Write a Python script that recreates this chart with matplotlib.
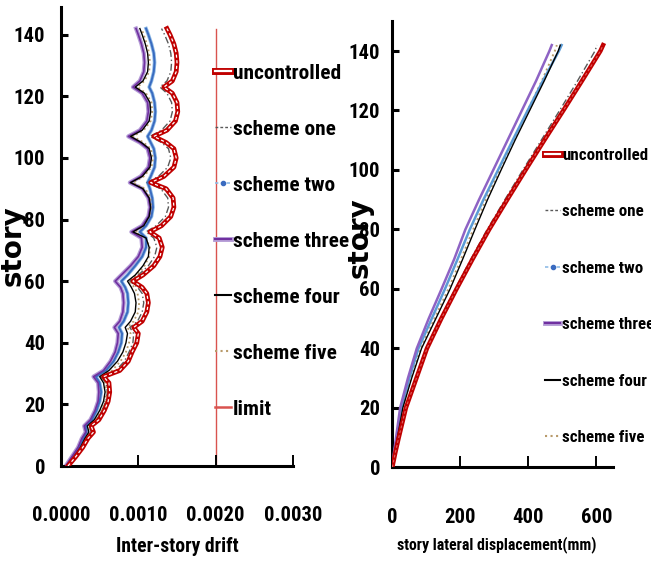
import matplotlib
matplotlib.use('Agg')
import matplotlib.pyplot as plt
from matplotlib.lines import Line2D
from matplotlib import font_manager
from matplotlib.font_manager import FontProperties
from matplotlib.textpath import TextPath

# ---------------- data ----------------
drift_story = [0, 3, 6, 9, 11, 13, 15, 18, 21, 24, 27, 29, 31, 34, 37, 40, 43, 45, 47, 50,
               53, 56, 58, 60, 62, 65, 68, 71, 74, 76, 78, 81, 84, 87, 90, 92, 94, 97, 100,
               103, 105, 107, 109, 112, 115, 118, 121, 123, 125, 128, 131, 134, 137, 140, 142]
# inter-story drift (x 1e-3)
drift_uncontrolled = [0.09, 0.19, 0.28, 0.35, 0.42, 0.39, 0.49, 0.56, 0.61, 0.63, 0.62, 0.55, 0.76, 0.87,
                      0.92, 0.98, 1.00, 0.94, 1.05, 1.11, 1.13, 1.11, 1.05, 0.93, 1.06, 1.20, 1.28, 1.31,
                      1.27, 1.15, 1.30, 1.42, 1.46, 1.45, 1.36, 1.16, 1.33, 1.46, 1.49, 1.46, 1.36, 1.20,
                      1.37, 1.48, 1.51, 1.50, 1.44, 1.33, 1.44, 1.49, 1.50, 1.49, 1.46, 1.41, 1.37]
drift_one = [0.08, 0.18, 0.26, 0.33, 0.39, 0.37, 0.46, 0.53, 0.58, 0.60, 0.58, 0.52, 0.71, 0.82,
             0.88, 0.93, 0.94, 0.89, 0.99, 1.05, 1.07, 1.05, 0.99, 0.89, 1.00, 1.13, 1.21, 1.24,
             1.20, 1.10, 1.23, 1.35, 1.39, 1.38, 1.29, 1.11, 1.26, 1.38, 1.42, 1.39, 1.30, 1.15,
             1.30, 1.41, 1.44, 1.43, 1.37, 1.28, 1.37, 1.42, 1.43, 1.42, 1.39, 1.34, 1.30]
drift_two = [0.07, 0.15, 0.23, 0.29, 0.33, 0.32, 0.40, 0.46, 0.50, 0.52, 0.50, 0.45, 0.58, 0.68,
             0.74, 0.78, 0.79, 0.75, 0.81, 0.86, 0.87, 0.86, 0.83, 0.78, 0.86, 0.96, 1.05, 1.10,
             1.10, 1.02, 1.10, 1.17, 1.19, 1.18, 1.15, 1.12, 1.16, 1.21, 1.22, 1.20, 1.16, 1.12,
             1.17, 1.21, 1.22, 1.21, 1.18, 1.14, 1.17, 1.20, 1.21, 1.20, 1.17, 1.13, 1.10]
drift_three = [0.06, 0.14, 0.22, 0.27, 0.32, 0.30, 0.38, 0.44, 0.48, 0.49, 0.48, 0.42, 0.55, 0.64,
               0.70, 0.73, 0.74, 0.69, 0.76, 0.80, 0.81, 0.80, 0.77, 0.70, 0.78, 0.90, 1.00, 1.05,
               1.04, 0.91, 1.05, 1.13, 1.15, 1.13, 1.05, 0.89, 1.03, 1.13, 1.15, 1.12, 1.02, 0.87,
               1.02, 1.11, 1.13, 1.12, 1.05, 0.93, 1.02, 1.07, 1.08, 1.07, 1.04, 1.00, 0.97]
drift_four = [0.08, 0.17, 0.25, 0.31, 0.36, 0.34, 0.43, 0.50, 0.55, 0.57, 0.55, 0.50, 0.62, 0.73,
              0.80, 0.84, 0.86, 0.83, 0.90, 0.96, 0.97, 0.95, 0.91, 0.86, 0.96, 1.06, 1.13, 1.14,
              1.10, 0.93, 1.07, 1.14, 1.16, 1.14, 1.06, 0.90, 1.05, 1.15, 1.17, 1.14, 1.04, 0.90,
              1.05, 1.14, 1.16, 1.15, 1.08, 0.96, 1.06, 1.12, 1.13, 1.12, 1.09, 1.05, 1.02]
drift_five = [0.08, 0.18, 0.26, 0.33, 0.38, 0.36, 0.45, 0.52, 0.57, 0.59, 0.57, 0.52, 0.66, 0.77,
              0.84, 0.88, 0.90, 0.86, 0.94, 1.00, 1.01, 0.99, 0.95, 0.88, 0.98, 1.08, 1.14, 1.15,
              1.09, 0.96, 1.09, 1.16, 1.18, 1.16, 1.09, 0.93, 1.07, 1.17, 1.19, 1.16, 1.07, 0.93,
              1.07, 1.16, 1.18, 1.17, 1.10, 0.99, 1.08, 1.14, 1.15, 1.14, 1.11, 1.07, 1.04]
limit_drift = [2.0, 2.0]
limit_story = [0, 142]

disp_story = [0, 5, 10, 20, 30, 40, 50, 60, 70, 80, 90, 100, 110, 120, 130, 140, 142]
disp_uncontrolled = [0, 9, 19, 40, 71, 102, 144, 189, 236, 285, 338, 392, 447, 503, 558, 612, 620]
disp_one = [0, 9, 18, 38, 69, 99, 141, 185, 231, 279, 331, 384, 438, 492, 545, 596, 602]
disp_two = [0, 6, 13, 27, 50, 77, 116, 155, 192, 228, 268, 311, 354, 398, 443, 490, 498]
disp_three = [0, 5, 11, 23, 46, 72, 107, 145, 182, 215, 255, 297, 339, 381, 423, 462, 469]
disp_four = [0, 7, 15, 31, 57, 86, 128, 170, 207, 243, 280, 320, 361, 404, 447, 488, 494]
disp_five = [0, 7, 14, 30, 55, 83, 124, 165, 202, 238, 275, 315, 356, 398, 440, 478, 484]

series_names = ['uncontrolled', 'scheme one', 'scheme two', 'scheme three', 'scheme four', 'scheme five']
limit_name = 'limit'

drift_ticks = [0.0, 0.001, 0.002, 0.003]
drift_ticklabels = ['0.0000', '0.0010', '0.0020', '0.0030']
story_ticks = [0, 20, 40, 60, 80, 100, 120, 140]
disp_ticks = [0, 200, 400, 600]

# ---------------- fonts: look for a narrow bold face ----------------
PREF = ['liberation sans narrow', 'roboto condensed', 'open sans condensed',
        'noto sans', 'dejavu sans']

def find_narrow():
    best = None
    for f in font_manager.fontManager.ttflist:
        nm = (f.name + ' ' + str(f.fname)).lower()
        st = str(f.stretch).lower()
        narrow = ('narrow' in nm or 'condensed' in nm or 'condensed' in st
                  or (isinstance(f.stretch, int) and f.stretch < 500))
        if not narrow or 'semicondensed' in nm.replace('-', '').replace(' ', ''):
            continue
        if 'italic' in str(f.style).lower() or 'oblique' in str(f.style).lower() \
                or 'italic' in nm:
            continue
        w = f.weight if isinstance(f.weight, int) else {'bold': 700}.get(str(f.weight), 400)
        score = abs(w - 700) / 100.0
        if 'extra' in nm or 'ultra' in nm:
            score += 1.5
        rank = len(PREF)
        for i, p in enumerate(PREF):
            if f.name.lower().startswith(p):
                rank = i
                break
        score += rank * 0.5
        if best is None or score < best[0]:
            best = (score, f.fname)
    return best[1] if best else None

NARROW_FILE = find_narrow()

def nprop(size):
    if NARROW_FILE:
        return FontProperties(fname=NARROW_FILE, size=size)
    return FontProperties(family='Liberation Sans', weight='bold', size=size)

def fit(text, target_px):
    """font size (pt) making `text` about target_px wide at 100 dpi"""
    w = TextPath((0, 0), text, prop=nprop(10)).get_extents().width * 100 / 72
    return 10 * target_px / w

TICK_FS = 1.2 * 0.5 * (fit('0.0000', 49) + fit('140', 23))
LEG1_FS = 0.98 * fit('uncontrolled', 108)
LEG2_FS = 1.0 * fit('uncontrolled', 84)
XL1_FS = 1.02 * fit('Inter-story drift', 118)
XL2_FS = 1.0 * fit('story lateral displacement(mm)', 199)

RED = '#c00000'
GRAY = '#595959'
BLUE = '#3a6bc0'
LBLUE = '#8fbbe6'
PURPLE = '#7030a0'
LPURPLE = '#b49bd6'
TAN = '#b89a6a'
LIMIT = '#d9534f'

W, H = 651, 566
fig = plt.figure(figsize=(W / 100, H / 100), dpi=100)

def px_axes(x0, y_top, x1, y_bot):
    return [x0 / W, 1 - y_bot / H, (x1 - x0) / W, (y_bot - y_top) / H]

ax1 = fig.add_axes(px_axes(61, 7, 293, 466))
ax2 = fig.add_axes(px_axes(392.3, 21.3, 613.3, 467.3))

# ---- left: inter-story drift ----
sc = 1e-3
def xs(v):
    return [a * sc for a in v]

ax1.plot(xs(limit_drift), limit_story, color=LIMIT, lw=1.0, zorder=1)
ax1.plot(xs(drift_one), drift_story, color=GRAY, lw=1.0, dashes=(5, 2, 1, 2), zorder=3)
ax1.plot(xs(drift_five), drift_story, color=TAN, lw=1.3, linestyle=':', zorder=3)
ax1.plot(xs(drift_two), drift_story, color=LBLUE, lw=2.6, zorder=2)
ax1.plot(xs(drift_two), drift_story, color=BLUE, lw=1.4, zorder=3)
ax1.plot(xs(drift_three), drift_story, color=LPURPLE, lw=3.0, zorder=2)
ax1.plot(xs(drift_three), drift_story, color=PURPLE, lw=1.2, zorder=3)
ax1.plot(xs(drift_four), drift_story, color='black', lw=1.0, zorder=4)
ax1.plot(xs(drift_uncontrolled), drift_story, color=RED, lw=3.4, zorder=5)
ax1.plot(xs(drift_uncontrolled), drift_story, color='white', lw=0.9, dashes=(2.5, 2), zorder=6)

ax1.set_xlim(0, 0.003)
ax1.set_ylim(0, 149)
ax1.set_xticks(drift_ticks)
ax1.set_xticklabels(drift_ticklabels)
ax1.set_yticks(story_ticks)

# ---- right: displacement ----
ax2.plot(disp_one, disp_story, color=GRAY, lw=1.0, dashes=(5, 2, 1, 2), zorder=4)
ax2.plot(disp_five, disp_story, color=TAN, lw=1.4, linestyle=':', zorder=3)
ax2.plot(disp_two, disp_story, color='#5b9bd5', lw=1.8, zorder=3)
ax2.plot(disp_three, disp_story, color='#8e63c4', lw=1.8, zorder=3)
ax2.plot(disp_four, disp_story, color='black', lw=1.0, zorder=4)
ax2.plot(disp_uncontrolled, disp_story, color=RED, lw=3.2, zorder=5)
ax2.plot(disp_uncontrolled, disp_story, color='#e06060', lw=0.8, dashes=(2.5, 2), zorder=6)

ax2.set_xlim(0, 650)
ax2.set_ylim(0, 150)
ax2.set_xticks(disp_ticks)
ax2.set_yticks(story_ticks)

for ax, ypad in ((ax1, 11.5), (ax2, 8.6)):
    for s in ('top', 'right'):
        ax.spines[s].set_visible(False)
    for s in ('left', 'bottom'):
        ax.spines[s].set_linewidth(2.2)
    ax.tick_params(axis='x', direction='in', length=8, width=1.4, pad=29)
    ax.tick_params(axis='y', direction='in', length=5, width=2.2, pad=ypad)
    for lab in ax.get_xticklabels() + ax.get_yticklabels():
        lab.set_fontproperties(nprop(TICK_FS))

ax1.set_xlabel('Inter-story drift', fontproperties=nprop(XL1_FS))
ax1.xaxis.set_label_coords(0.5, -0.155)
ax2.set_xlabel('story lateral displacement(mm)', fontproperties=nprop(XL2_FS))
ax2.xaxis.set_label_coords(0.474, -0.155)

ax1.set_ylabel('story', fontsize=20, fontweight='bold', family='DejaVu Sans')
ax1.yaxis.set_label_coords(-0.147, 0.48)
ax2.set_ylabel('story', fontsize=20, fontweight='bold', family='DejaVu Sans')
ax2.yaxis.set_label_coords(-0.085, 0.515)

# ---- legends ----
def handles(with_limit, blue_line):
    h = [
        (Line2D([], [], color=RED, lw=5), Line2D([], [], color='white', lw=1.6)),
        Line2D([], [], color=GRAY, lw=1.0, dashes=(2, 1.5)),
        Line2D([], [], color=LBLUE, lw=1.2, dashes=(2, 1.5), marker='o', ms=3,
               mfc=blue_line, mec=blue_line, markevery=[1]),
        (Line2D([], [], color=LPURPLE, lw=3.5), Line2D([], [], color=PURPLE, lw=1.5)),
        Line2D([], [], color='black', lw=1.5),
        Line2D([], [], color=TAN, lw=1.5, linestyle=':'),
    ]
    labels = list(series_names)
    if with_limit:
        h.append(Line2D([], [], color=LIMIT, lw=1.8))
        labels.append(limit_name)
    return h, labels

def legend(hs, ls, fs, x_px, first_center_px, pitch_px, hl_px):
    fs_px = fs * 100 / 72
    row_h = 0.95 * fs_px
    spacing = (pitch_px - row_h) / fs_px
    top = first_center_px - row_h / 2
    return fig.legend(hs, ls, loc='upper left', bbox_to_anchor=(x_px / W, 1 - top / H),
                      frameon=False, prop=nprop(fs), handlelength=hl_px / fs_px,
                      handletextpad=2 / fs_px, labelspacing=spacing,
                      borderpad=0, borderaxespad=0)

h1, l1 = handles(True, BLUE)
legend(h1, l1, LEG1_FS, 215, 74, 57.3, 16)
h2, l2 = handles(False, BLUE)
legend(h2, l2, LEG2_FS, 545, 156, 57.6, 15)

fig.savefig('out.png', dpi=100)
